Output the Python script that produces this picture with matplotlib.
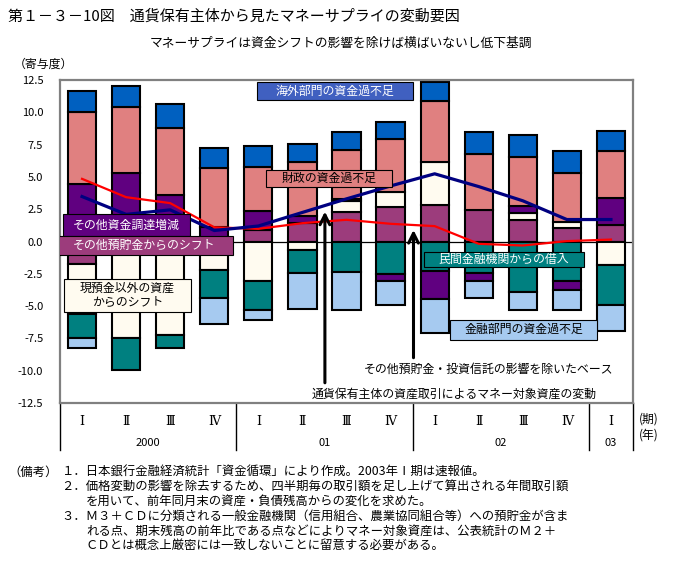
import numpy as np
import matplotlib
matplotlib.use("Agg")
import matplotlib.pyplot as plt
import matplotlib.patches as patches

plt.rcParams['font.family'] = ['Noto Sans CJK JP', 'DejaVu Sans']

# quarters 2000 I .. 2003 I
quarters = ["Ⅰ", "Ⅱ", "Ⅲ", "Ⅳ", "Ⅰ", "Ⅱ", "Ⅲ", "Ⅳ", "Ⅰ", "Ⅱ", "Ⅲ", "Ⅳ", "Ⅰ"]
years = ["2000", "01", "02", "03"]
year_span = [(0, 3), (4, 7), (8, 11), (12, 12)]

# contributions (寄与度), stacked in this order
other_deposit_shift = [-1.73, -0.6, -0.3, 0.0, 0.9, 1.45, 2.3, 2.66, 2.86, 2.43, 1.68, 1.06, 1.24]
non_cash_asset_shift = [-3.87, -6.86, -6.9, -2.24, -3.07, -0.62, 0.8, 1.16, 3.28, 0.0, 0.51, 0.43, -1.8]
private_borrowing = [-1.88, -2.52, -1.03, -2.12, -2.27, -1.83, -2.37, -2.5, -2.32, -2.45, -3.92, -3.07, -3.1]
other_funding = [4.44, 5.34, 3.58, 1.1, 1.45, 0.54, 0.2, -0.57, -2.12, -0.62, 0.54, -0.72, 2.11]
fiscal_balance = [5.62, 5.06, 5.24, 4.57, 3.43, 4.2, 3.79, 4.13, 4.7, 4.33, 3.8, 3.8, 3.64]
overseas_balance = [1.57, 1.65, 1.81, 1.55, 1.62, 1.37, 1.35, 1.31, 1.49, 1.73, 1.7, 1.73, 1.58]
financial_balance = [-0.75, 0.0, 0.0, -2.01, -0.77, -2.76, -2.97, -1.81, -2.63, -1.29, -1.37, -1.55, -1.99]

money_change = [3.48, 2.1, 2.45, 0.85, 1.2, 2.25, 3.3, 4.3, 5.24, 4.25, 3.15, 1.7, 1.7]
excl_deposit_trust = [4.85, 3.43, 2.97, 1.1, 0.98, 1.42, 1.68, 1.37, 1.19, -0.18, -0.31, 0.03, 0.15]

series = [other_deposit_shift, non_cash_asset_shift, private_borrowing, other_funding,
          fiscal_balance, overseas_balance, financial_balance]
colors = ["#9C3C7C", "#FFFBF0", "#008080", "#600080", "#E08080", "#0060C0", "#A6CAF0"]

fig = plt.figure(figsize=(7, 5.85), dpi=100)
ax = fig.add_axes([60/700, 1-403/585, 573/700, 323/585])

x = np.arange(len(quarters))
pos = np.zeros(len(x))
neg = np.zeros(len(x))
for vals, c in zip(series, colors):
    v = np.array(vals)
    bottom = np.where(v >= 0, pos, neg)
    nz = v != 0
    ax.bar(x[nz], v[nz], width=0.64, bottom=bottom[nz], color=c,
           edgecolor='black', linewidth=1.5, zorder=2)
    pos += np.clip(v, 0, None)
    neg += np.clip(v, None, 0)

ax.axhline(0, color='black', lw=0.9, zorder=1)
ax.plot(x, excl_deposit_trust, color='#FF0000', lw=1.6, zorder=3)
ax.plot(x, money_change, color='#000080', lw=2.3, zorder=3)

ax.set_xlim(-0.5, len(x) - 0.5)
ax.set_ylim(-12.5, 12.5)
yt = np.arange(-12.5, 12.6, 2.5)
ax.set_yticks(yt)
ax.set_yticklabels([f"{v:.1f}" for v in yt], fontsize=8)
ax.tick_params(axis='y', length=0, pad=12)
ax.set_xticks([])
for s in ax.spines.values():
    s.set_color('#808080')
    s.set_linewidth(1.6)

# category axis table
trans = ax.get_xaxis_transform()
for xv in [-0.5, 3.5, 7.5, 11.5, 12.5]:
    ax.plot([xv, xv], [0, -0.146], transform=trans, color='black', lw=1, clip_on=False)
for i, q in enumerate(quarters):
    ax.text(i, -0.058, q, transform=trans, ha='center', va='center', fontsize=9,
            family=['DejaVu Serif', 'Noto Sans CJK JP'])
for y, (a, b) in zip(years, year_span):
    ax.text((a + b) / 2, -0.124, y, transform=trans, ha='center', va='center', fontsize=8)
fig.text(639/700, 1-419/585, "(期)", fontsize=8.5, va='center')
fig.text(639/700, 1-435/585, "(年)", fontsize=8.5, va='center')

# labelled boxes
def label_box(cx, cy, w, h, text, face, tcolor):
    ax.add_patch(patches.Rectangle((cx - w/2, cy - h/2), w, h, facecolor=face,
                                   edgecolor='black', lw=0.8, zorder=4))
    ax.text(cx, cy, text, ha='center', va='center', color=tcolor, fontsize=8.6,
            zorder=5, linespacing=1.15)

label_box(5.74, 11.65, 3.54, 1.36, "海外部門の資金過不足", "#4060C0", "white")
label_box(5.60, 4.88, 2.87, 1.35, "財政の資金過不足", "#E08080", "black")
label_box(1.01, 1.25, 2.87, 1.68, "その他資金調達増減", "#600080", "white")
label_box(1.41, -0.33, 4.04, 1.49, "その他預貯金からのシフト", "#9C3C7C", "white")
label_box(1.03, -4.18, 2.90, 2.55, "現預金以外の資産\nからのシフト", "#FFFBF0", "black")
label_box(9.57, -1.41, 3.63, 1.16, "民間金融機関からの借入", "#008080", "white")
label_box(10.02, -6.83, 3.33, 1.55, "金融部門の資金過不足", "#A6CAF0", "black")

# arrows to the lines
arr = dict(arrowstyle='->,head_length=0.7,head_width=0.35', color='black', lw=2.2)
ax.annotate('', xy=(5.51, 2.53), xytext=(5.51, -11.15), arrowprops=arr, zorder=6)
ax.annotate('', xy=(7.52, 1.11), xytext=(7.52, -9.21), arrowprops=arr, zorder=6)
ax.text(5.21, -11.79, "通貨保有主体の資産取引によるマネー対象資産の変動", fontsize=8.6,
        va='center', ha='left', zorder=6)
ax.text(6.40, -9.86, "その他預貯金・投資信託の影響を除いたベース", fontsize=8.6,
        va='center', ha='left', zorder=6)

# titles
fig.text(8/700, 1-17/585, "第１－３－10図　通貨保有主体から見たマネーサプライの変動要因",
         fontsize=10.8, va='center')
fig.text(150/700, 1-43/585, "マネーサプライは資金シフトの影響を除けば横ばいないし低下基調",
         fontsize=9.2, va='center')
fig.text(14/700, 1-64/585, "（寄与度）", fontsize=8.6, va='center')

# notes
notes = [
    (8, "（備考）"),
    (61.5, "１．日本銀行金融経済統計「資金循環」により作成。2003年Ⅰ期は速報値。"),
    (61.5, "２．価格変動の影響を除去するため、四半期毎の取引額を足し上げて算出される年間取引額"),
    (86, "を用いて、前年同月末の資産・負債残高からの変化を求めた。"),
    (61.5, "３．Ｍ３＋ＣＤに分類される一般金融機関（信用組合、農業協同組合等）への預貯金が含ま"),
    (86, "れる点、期末残高の前年比である点などによりマネー対象資産は、公表統計のＭ２＋"),
    (86, "ＣＤとは概念上厳密には一致しないことに留意する必要がある。"),
]
rows = [472.3, 472.3, 487, 501.7, 516.3, 531, 545.3]
for (nx, t), ny in zip(notes, rows):
    fig.text(nx/700, 1-ny/585, t, fontsize=8.9, va='center')

fig.savefig("out.png", dpi=100)
